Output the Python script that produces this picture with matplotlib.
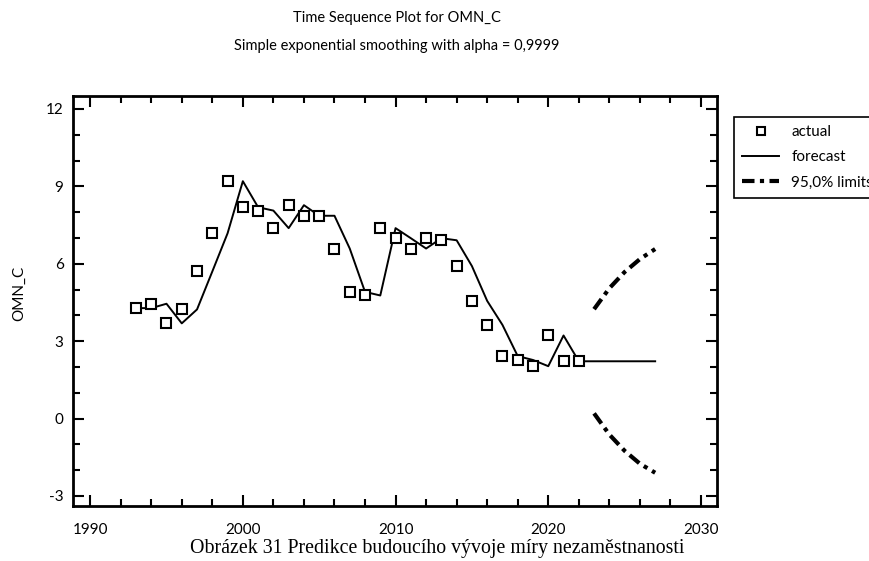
#!/usr/bin/env python3

import matplotlib
matplotlib.use('Agg')
import matplotlib.pyplot as plt
from matplotlib.ticker import MultipleLocator

# Data
years = list(range(1993, 2023))
actual = [4.28, 4.45, 3.69, 4.23, 5.70, 7.18, 9.20, 8.19, 8.06, 7.38,
          8.27, 7.86, 7.86, 6.59, 4.91, 4.77, 7.38, 6.99, 6.59, 6.99,
          6.91, 5.91, 4.56, 3.63, 2.42, 2.27, 2.03, 3.22, 2.22, 2.22]

fc_years = list(range(1993, 2028))
forecast = [4.28, 4.28, 4.45, 3.69, 4.23, 5.70, 7.18, 9.20, 8.19, 8.06,
            7.38, 8.27, 7.86, 7.86, 6.59, 4.91, 4.77, 7.38, 6.99, 6.59,
            6.99, 6.91, 5.91, 4.56, 3.63, 2.42, 2.27, 2.03, 3.22, 2.22,
            2.22, 2.22, 2.22, 2.22, 2.22]

lim_years = [2023, 2024, 2025, 2026, 2027]
upper = [4.24, 5.05, 5.68, 6.18, 6.57]
lower = [0.20, -0.62, -1.25, -1.75, -2.10]

plt.rcParams['font.family'] = ['Lato', 'DejaVu Sans']
plt.rcParams['axes.unicode_minus'] = False

fig = plt.figure(figsize=(8.7, 5.61), dpi=100)
ax = fig.add_axes([0.0843, 0.098, 0.7395, 0.7308])

ax.plot(years, actual, linestyle='none', marker='s', markersize=6.5,
        markerfacecolor='white', markeredgecolor='black', markeredgewidth=1.5,
        label='actual', zorder=3)
ax.plot(fc_years, forecast, color='black', linewidth=1.4, label='forecast')
ax.plot(lim_years, upper, color='black', linewidth=3, dashes=(3, 1.3, 1, 1.3),
        label='95,0% limits')
ax.plot(lim_years, lower, color='black', linewidth=3, dashes=(3, 1.3, 1, 1.3))

ax.set_xlim(1988.9, 2031.03)
ax.set_ylim(-3.39, 12.5)
ax.xaxis.set_major_locator(MultipleLocator(10))
ax.xaxis.set_minor_locator(MultipleLocator(2))
ax.yaxis.set_major_locator(MultipleLocator(3))
ax.yaxis.set_minor_locator(MultipleLocator(1))
ax.tick_params(which='both', direction='in', top=True, right=True,
               labelsize=11, width=1.5)
ax.tick_params(which='major', length=8)
ax.tick_params(which='minor', length=5)
ax.tick_params(axis='x', pad=12)
ax.tick_params(axis='y', pad=7)
for s in ax.spines.values():
    s.set_linewidth(2)

fig.text(19 / 870, 1 - 293 / 561, 'OMN_C', rotation=90, ha='center', va='center',
         fontsize=11)

fig.text(0.456, 0.968, 'Time Sequence Plot for OMN_C', ha='center', va='center', fontsize=10.5)
fig.text(0.456, 0.918, 'Simple exponential smoothing with alpha = 0,9999', ha='center',
         va='center', fontsize=10.5)

# legend sits partly outside the figure, as in the original
leg = ax.legend(loc='upper left', bbox_to_anchor=(734 / 870, 1 - 117 / 561),
                bbox_transform=fig.transFigure, borderaxespad=0, fancybox=False,
                edgecolor='black', framealpha=1, fontsize=11, handlelength=2.4,
                handletextpad=0.8, labelspacing=0.72, borderpad=0.55, markerscale=0.8)
leg.get_frame().set_linewidth(1.2)

fig.text(0.503, 0.023, 'Obrázek 31 Predikce budoucího vývoje míry nezaměstnanosti',
         ha='center', va='center', fontsize=14.3, family='Liberation Serif')

fig.savefig('out.png', dpi=100)
